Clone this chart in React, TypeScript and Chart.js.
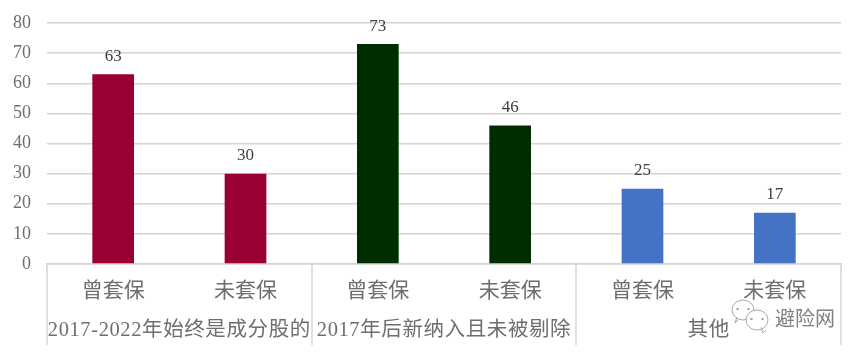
import React, { useEffect, useRef } from "react";
import { Chart, registerables } from "chart.js";

Chart.register(...registerables);

const categories = ["曾套保", "未套保", "曾套保", "未套保", "曾套保", "未套保"];
const values = [63, 30, 73, 46, 25, 17];
const barColors = ["#990033", "#990033", "#002D00", "#002D00", "#4472C4", "#4472C4"];
const groupLabels = ["2017-2022年始终是成分股的", "2017年后新纳入且未被剔除", "其他"];
const groupSize = 2;
const watermark = "避险网";

const FONT = '"Liberation Serif", "Noto Sans CJK SC", serif';
const AXIS = "#D4D4D4";
const TEXT = "#6E6E6E";

const overlay = {
  id: "overlay",
  afterDatasetsDraw(chart: any) {
    const { ctx, scales, chartArea } = chart;
    const x = scales.x;
    const y = scales.y;
    const step = x.width / categories.length;
    ctx.save();
    // data labels
    ctx.font = `17px ${FONT}`;
    ctx.fillStyle = "#404040";
    ctx.textAlign = "center";
    ctx.textBaseline = "middle";
    values.forEach((v, i) => {
      ctx.fillText(String(v), x.getPixelForValue(i), y.getPixelForValue(v) - 18);
    });
    // multi-level axis separators and group labels
    ctx.strokeStyle = AXIS;
    ctx.lineWidth = 1.5;
    for (let g = 0; g <= groupLabels.length; g++) {
      const px = Math.round(x.left + g * groupSize * step);
      ctx.beginPath();
      ctx.moveTo(px, chartArea.bottom);
      ctx.lineTo(px, 345);
      ctx.stroke();
    }
    ctx.font = `20.5px ${FONT}`;
    (ctx as any).letterSpacing = "0.6px";
    ctx.fillStyle = TEXT;
    groupLabels.forEach((label, g) => {
      ctx.fillText(label, x.left + (g + 0.5) * groupSize * step, 331);
    });
    (ctx as any).letterSpacing = "0px";
    // watermark
    ctx.strokeStyle = "#A8A8A8";
    ctx.lineWidth = 1;
    ctx.fillStyle = "rgba(255,255,255,0.9)";
    const bubble = (cx: number, cy: number, rx: number, ry: number, tx: number, ty: number) => {
      ctx.beginPath();
      ctx.ellipse(cx, cy, rx, ry, 0, 0, Math.PI * 2);
      ctx.fill();
      ctx.stroke();
      ctx.beginPath();
      ctx.moveTo(cx + tx, cy + ry - 3);
      ctx.lineTo(cx + tx + ty, cy + ry + 3);
      ctx.lineTo(cx + tx + ty + 3, cy + ry);
      ctx.stroke();
      ctx.fillStyle = "#9A9A9A";
      ctx.fillRect(cx - rx / 2 - 1, cy - 2, 2, 2);
      ctx.fillRect(cx + rx / 2 - 1, cy - 2, 2, 2);
      ctx.fillStyle = "rgba(255,255,255,0.9)";
    };
    bubble(743, 310, 11, 10, -6, -2);
    bubble(757, 320, 11, 10, 4, 2);
    ctx.font = `20px "Noto Sans CJK SC", sans-serif`;
    ctx.textAlign = "left";
    ctx.fillStyle = "#808080";
    ctx.fillText(watermark, 775, 318);
    ctx.restore();
  },
};

export default function App() {
  const ref = useRef<HTMLCanvasElement>(null);
  useEffect(() => {
    const chart = new Chart(ref.current as HTMLCanvasElement, {
      type: "bar",
      data: {
        labels: categories,
        datasets: [
          {
            data: values,
            backgroundColor: barColors,
            barPercentage: 0.315,
            categoryPercentage: 1,
          },
        ],
      },
      options: {
        responsive: false,
        animation: false,
        layout: { padding: { top: 23, right: 21, left: 0, bottom: 0 } },
        plugins: { legend: { display: false }, tooltip: { enabled: false } },
        scales: {
          x: {
            grid: { display: false, drawTicks: false },
            border: { color: AXIS, width: 1.5 },
            ticks: {
              color: TEXT,
              font: { family: FONT, size: 21 },
              maxRotation: 0,
              autoSkip: false,
              padding: 15,
            },
            afterFit(scale: any) {
              scale.height = 90;
              scale.paddingLeft = 0;
              scale.paddingRight = 0;
            },
          },
          y: {
            min: 0,
            max: 80,
            grid: { color: AXIS, lineWidth: 1.5, drawTicks: false },
            border: { display: false },
            ticks: {
              stepSize: 10,
              color: TEXT,
              font: { family: FONT, size: 18 },
              padding: 16,
            },
            afterFit(scale: any) {
              scale.width = 47;
              scale.paddingTop = 0;
              scale.paddingBottom = 0;
            },
          },
        },
      },
      plugins: [overlay],
    } as any);
    return () => chart.destroy();
  }, []);
  return (
    <canvas
      ref={ref}
      width={862}
      height={354}
      style={{ position: "absolute", left: 0, top: 0, display: "block", background: "#fff" }}
    />
  );
}
